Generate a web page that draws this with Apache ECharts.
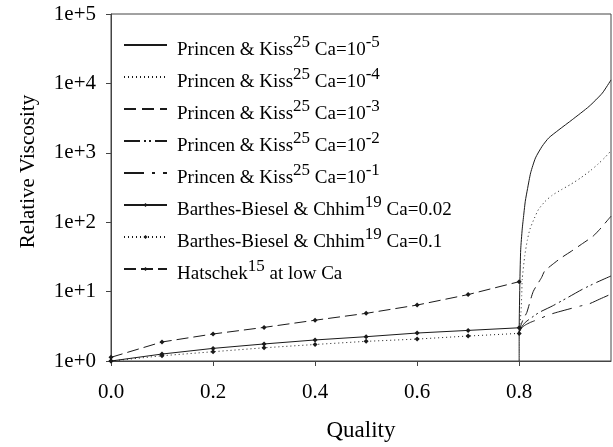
<!DOCTYPE html>
<html>
<head>
<meta charset="utf-8">
<script src="https://cdn.jsdelivr.net/npm/echarts@6/dist/echarts.min.js"></script>
<style>
  html, body { margin: 0; padding: 0; background: #fff; }
  #chart { width: 613px; height: 447px; }
</style>
</head>
<body>
<div id="chart"></div>
<script>
// Barthes-Biesel / Hatschek points at each quality
var quality = [0, 0.1, 0.2, 0.3, 0.4, 0.5, 0.6, 0.7, 0.8];
var bb002 = [1.0, 1.26, 1.52, 1.76, 2.01, 2.24, 2.53, 2.76, 3.01];
var bb01 = [1.0, 1.19, 1.36, 1.55, 1.73, 1.92, 2.07, 2.29, 2.5];
var hatschek = [1.13, 1.88, 2.45, 3.05, 3.87, 4.86, 6.4, 9.06, 13.9];

// Princen & Kiss curves, [quality, viscosity]
var pk5 = [[0.8, 1], [0.8, 2.6], [0.8015, 15], [0.803, 40], [0.806, 80], [0.808, 110], [0.812, 200],
  [0.8165, 306], [0.8225, 514], [0.832, 845], [0.845, 1240], [0.858, 1640], [0.878, 2150],
  [0.904, 3000], [0.937, 4660], [0.963, 7250], [0.98, 11230]];
var pk4 = [[0.8, 2.6], [0.8035, 5.0], [0.805, 8.7], [0.806, 15], [0.811, 33], [0.816, 55], [0.821, 79],
  [0.83, 115], [0.838, 153], [0.851, 200], [0.865, 245], [0.883, 295], [0.901, 351], [0.92, 432],
  [0.94, 556], [0.955, 692], [0.969, 871], [0.98, 1070]];
var pk3 = [[0.8, 2.6], [0.803, 3.2], [0.808, 4], [0.815, 5], [0.8275, 10], [0.844, 16], [0.85, 19.8],
  [0.87, 26.2], [0.883, 30.9], [0.903, 38.5], [0.922, 48], [0.945, 63], [0.958, 79], [0.98, 122]];
var pk2 = [[0.8, 2.6], [0.805, 3.1], [0.812, 3.6], [0.82, 4.0], [0.839, 5.0], [0.865, 6.2],
  [0.895, 8.2], [0.924, 10.8], [0.952, 13.6], [0.98, 16.8]];
var pk1 = [[0.8, 2.6], [0.805, 3.0], [0.812, 3.3], [0.822, 3.6], [0.838, 4.0], [0.857, 4.6],
  [0.877, 5.1], [0.92, 6.2], [0.936, 6.6], [0.958, 7.8], [0.98, 9.2]];

var xTicks = [0, 0.2, 0.4, 0.6, 0.8];

var names = ['pk5', 'pk4', 'pk3', 'pk2', 'pk1', 'bb002', 'bb01', 'hat'];
var legendText = {
  pk5: '{n|Princen & Kiss}{s|25}{n| Ca=10}{s|-5}',
  pk4: '{n|Princen & Kiss}{s|25}{n| Ca=10}{s|-4}',
  pk3: '{n|Princen & Kiss}{s|25}{n| Ca=10}{s|-3}',
  pk2: '{n|Princen & Kiss}{s|25}{n| Ca=10}{s|-2}',
  pk1: '{n|Princen & Kiss}{s|25}{n| Ca=10}{s|-1}',
  bb002: '{n|Barthes-Biesel & Chhim}{s|19}{n| Ca=0.02}',
  bb01: '{n|Barthes-Biesel & Chhim}{s|19}{n| Ca=0.1}',
  hat: '{n|Hatschek}{s|15}{n| at low Ca}'
};

var FONT = 'Liberation Serif';
var INK = '#1a1a1a';
// 1x1 transparent image so the legend shows only the line sample
var NOSYM = 'image://data:image/gif;base64,R0lGODlhAQABAIAAAAAAAP///yH5BAEAAAAALAAAAAABAAEAAAIBRAA7';

function zip(xs, ys) {
  return xs.map(function (x, i) { return [x, ys[i]]; });
}

function curve(name, data, dash) {
  return {
    name: name, type: 'line', data: data, symbol: NOSYM, showSymbol: false, smooth: 0.2,
    color: INK,
    lineStyle: { color: INK, width: 1, type: dash }
  };
}

function marked(name, data, dash) {
  return {
    name: name, type: 'line', data: data, symbol: 'diamond', symbolSize: 5,
    color: INK,
    itemStyle: { color: INK },
    lineStyle: { color: INK, width: 1, type: dash }
  };
}

var chart = echarts.init(document.getElementById('chart'));
chart.setOption({
  animation: false,
  backgroundColor: '#fff',
  grid: {
    left: 111, right: 2, top: 14, bottom: 85,
    show: true, borderColor: '#444', borderWidth: 1, backgroundColor: 'transparent'
  },
  legend: {
    orient: 'vertical',
    left: 123, top: 34, padding: 0,
    itemWidth: 43, itemHeight: 5, itemGap: 6,
    data: names,
    formatter: function (name) { return legendText[name]; },
    textStyle: {
      padding: [4, 0, 0, 5],
      rich: {
        n: { fontFamily: FONT, fontSize: 19, color: '#000', lineHeight: 26, verticalAlign: 'bottom' },
        s: { fontFamily: FONT, fontSize: 17, color: '#000', lineHeight: 10, verticalAlign: 'top' }
      }
    }
  },
  xAxis: {
    type: 'value', min: 0, max: 0.98, interval: 0.2,
    name: 'Quality', nameLocation: 'middle', nameGap: 58,
    nameTextStyle: { fontFamily: FONT, fontSize: 23, color: '#000' },
    axisLine: { lineStyle: { color: '#444', width: 1 } },
    axisTick: { show: true, length: 5, customValues: xTicks, lineStyle: { color: '#444' } },
    axisLabel: {
      customValues: xTicks, margin: 21,
      fontFamily: FONT, fontSize: 21, color: '#000',
      formatter: function (v) { return v.toFixed(1); }
    },
    splitLine: { show: false }
  },
  yAxis: {
    type: 'log', logBase: 10, min: 1, max: 100000,
    name: 'Relative Viscosity', nameLocation: 'middle', nameGap: 72,
    nameTextStyle: { fontFamily: FONT, fontSize: 21, color: '#000', padding: [0, 0, 0, 32] },
    axisLine: { lineStyle: { color: '#444', width: 1 } },
    axisTick: { show: true, length: 5, lineStyle: { color: '#444' } },
    axisLabel: {
      margin: 15, fontFamily: FONT, fontSize: 21, color: '#000',
      formatter: function (v) { return '1e+' + Math.round(Math.log10(v)); }
    },
    splitLine: { show: false },
    minorTick: { show: false }
  },
  series: [
    curve('pk5', pk5, 'solid'),
    curve('pk4', pk4, [1, 3]),
    curve('pk3', pk3, [12, 6]),
    curve('pk2', pk2, [16, 4, 2, 3, 2, 4]),
    curve('pk1', pk1, [20, 8, 3, 8]),
    marked('bb002', zip(quality, bb002), 'solid'),
    marked('bb01', zip(quality, bb01), [1, 3]),
    marked('hat', zip(quality, hatschek), [12, 5])
  ]
});
</script>
</body>
</html>
